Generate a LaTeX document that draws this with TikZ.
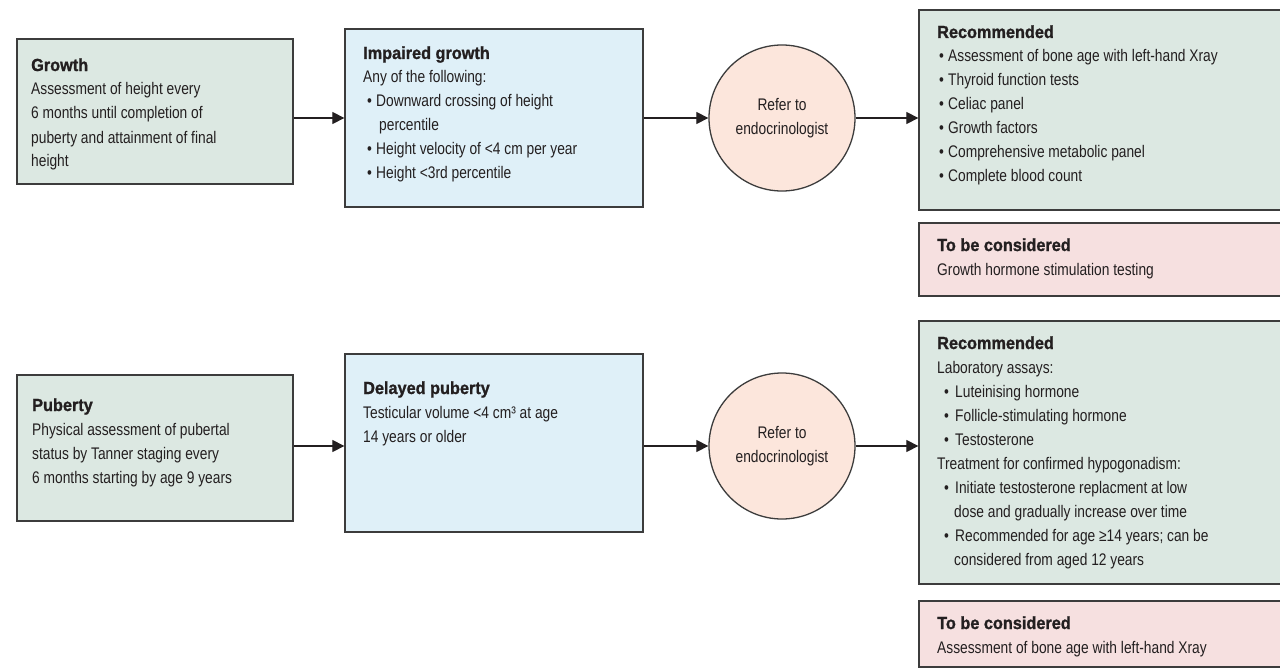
\documentclass[tikz,border=0pt]{standalone}
\usepackage{fontspec}
\setmainfont{Liberation Sans}[FakeStretch=0.82]
\newfontfamily\hdfont{Liberation Sans}[FakeStretch=0.93,FakeBold=1.2]
\usetikzlibrary{arrows.meta}
\definecolor{gfill}{RGB}{220,232,226}
\definecolor{bfill}{RGB}{223,240,248}
\definecolor{cfill}{RGB}{252,230,220}
\definecolor{pfill}{RGB}{246,224,224}
\definecolor{edgec}{RGB}{60,60,60}
\definecolor{ink}{RGB}{35,31,32}
\newcommand\hd[1]{{\fontsize{17.5}{24}\hdfont\bfseries #1}}
\newcommand\bul{\makebox[18pt][l]{\hspace{7pt}•}}
\newcommand\cont{\hspace*{17pt}}
\newcommand\bula{\makebox[11pt][l]{\hspace{2pt}•}}
\newcommand\bulb{\makebox[13pt][l]{\hspace{4pt}•}}
\newcommand\contb{\hspace*{16pt}}
\newcommand\tx[1]{\parbox[t]{330pt}{\raggedright #1}}
\begin{document}
\begin{tikzpicture}[x=1pt,y=-1pt,
  box/.style={draw=edgec, line width=1.3pt, rectangle, inner sep=0pt},
  gbox/.style={box, fill=gfill},
  bbox/.style={box, fill=bfill},
  pbox/.style={box, fill=pfill},
  txt/.style={anchor=base west, inner sep=0pt, text=ink, font=\fontsize{16.8}{24}\selectfont},
  arr/.style={draw=ink, line width=1.2pt, -{Triangle[length=12pt,width=12pt]}},
  refer/.style={circle, draw=edgec, line width=1.3pt, fill=cfill, minimum size=146pt, inner sep=0pt, align=center, text=ink, font=\fontsize{16.8}{24}\selectfont}
]
\useasboundingbox (0,0) rectangle (1280,669);
\fill[white] (0,0) rectangle (1280,669);

% top row
\node[gbox, minimum width=276pt, minimum height=145pt] (growth) at (155,111.5) {};
\node[bbox, minimum width=298pt, minimum height=178pt] (impaired) at (494,118) {};
\node[refer] (ref1) at (782,118) {Refer to\\endocrinologist};
\node[gbox, minimum width=365pt, minimum height=200pt] (rec1) at (1101.5,110) {};
\node[pbox, minimum width=365pt, minimum height=73pt] (cons1) at (1101.5,259.5) {};

\node[txt] (growthT) at (31,71) {\tx{\hd{Growth}\\
Assessment of height every\\
6 months until completion of\\
puberty and attainment of final\\
height}};
\node[txt] (impairedT) at (363,59) {\tx{\hd{Impaired growth}\\
Any of the following:\\
\bulb Downward crossing of height\\
\contb percentile\\
\bulb Height velocity of <4 cm per year\\
\bulb Height <3rd percentile}};
\node[txt] (rec1T) at (937,38) {\tx{\hd{Recommended}\\
\bula Assessment of bone age with left-hand Xray\\
\bula Thyroid function tests\\
\bula Celiac panel\\
\bula Growth factors\\
\bula Comprehensive metabolic panel\\
\bula Complete blood count}};
\node[txt] (cons1T) at (937,251) {\tx{\hd{To be considered}\\
Growth hormone stimulation testing}};

% bottom row
\node[gbox, minimum width=276pt, minimum height=146pt] (puberty) at (155,448) {};
\node[bbox, minimum width=298pt, minimum height=178pt] (delayed) at (494,443) {};
\node[refer] (ref2) at (782,446) {Refer to\\endocrinologist};
\node[gbox, minimum width=365pt, minimum height=263pt] (rec2) at (1101.5,452.5) {};
\node[pbox, minimum width=365pt, minimum height=66pt] (cons2) at (1101.5,634) {};

\node[txt] (pubertyT) at (32,411) {\tx{\hd{Puberty}\\
Physical assessment of pubertal\\
status by Tanner staging every\\
6 months starting by age 9 years}};
\node[txt] (delayedT) at (363,394) {\tx{\hd{Delayed puberty}\\
Testicular volume <4 cm³ at age\\
14 years or older}};
\node[txt] (rec2T) at (937,349) {\tx{\hd{Recommended}\\
Laboratory assays:\\
\bul Luteinising hormone\\
\bul Follicle-stimulating hormone\\
\bul Testosterone\\
Treatment for confirmed hypogonadism:\\
\bul Initiate testosterone replacment at low\\
\cont dose and gradually increase over time\\
\bul Recommended for age ≥14 years; can be\\
\cont considered from aged 12 years}};
\node[txt] (cons2T) at (937,629) {\tx{\hd{To be considered}\\
Assessment of bone age with left-hand Xray}};

% connectors
\draw[arr] (growth.east |- ref1.center) -- (impaired.west |- ref1.center);
\draw[arr] (impaired.east |- ref1.center) -- (ref1.west);
\draw[arr] (ref1.east) -- (rec1.west |- ref1.east);
\draw[arr] (puberty.east |- ref2.center) -- (delayed.west |- ref2.center);
\draw[arr] (delayed.east |- ref2.center) -- (ref2.west);
\draw[arr] (ref2.east) -- (rec2.west |- ref2.east);
\end{tikzpicture}
\end{document}
